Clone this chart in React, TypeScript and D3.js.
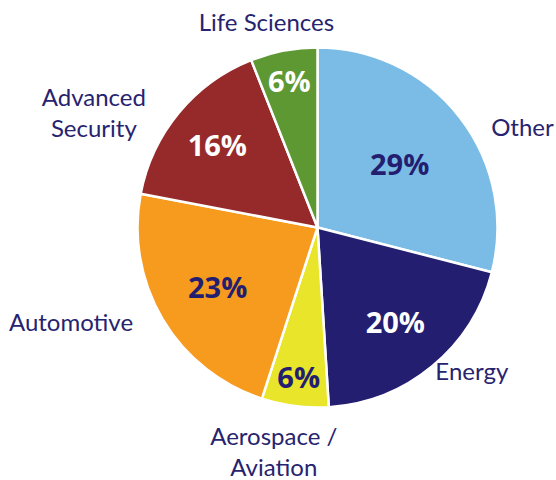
import React, { useEffect, useRef } from "react";
import * as d3 from "d3";

const categories = ["Other", "Energy", "Aerospace / Aviation", "Automotive", "Advanced Security", "Life Sciences"];
const shares = [29, 20, 6, 23, 16, 6];
const sliceColors = ["#7bbce7", "#231e6f", "#e9e52b", "#f79b1e", "#962a2b", "#5d9833"];
const valueTextColors = ["#231e6f", "#ffffff", "#231e6f", "#231e6f", "#ffffff", "#ffffff"];
const labelLines = [["Other"], ["Energy"], ["Aerospace /", "Aviation"], ["Automotive"], ["Advanced", "Security"], ["Life Sciences"]];

// where each category name sits around the pie (angle in degrees, distance from centre)
const labelPlacement = [
  { angle: 64, r: 228 },
  { angle: 133, r: 211 },
  { angle: 191, r: 229 },
  { angle: 249, r: 264 },
  { angle: 297, r: 251 },
  { angle: 346, r: 211 },
];

export default function App() {
  const ref = useRef<SVGSVGElement>(null);

  useEffect(() => {
    document.body.style.margin = "0";
    const width = 556;
    const height = 480;
    const radius = 180;
    const cx = 317.5;
    const cy = 227.5;

    const data = categories.map((name, i) => ({ name, value: shares[i], i }));

    const svg = d3.select(ref.current);
    svg.selectAll("*").remove();
    svg.attr("width", width).attr("height", height);

    const g = svg.append("g").attr("transform", `translate(${cx},${cy})`);

    const pie = d3
      .pie<any>()
      .sort(null)
      .value((d) => d.value);

    const arc = d3.arc<any>().innerRadius(0).outerRadius(radius);

    const arcs = pie(data);

    g.selectAll("path")
      .data(arcs)
      .enter()
      .append("path")
      .attr("d", arc)
      .attr("fill", (d) => sliceColors[d.data.i])
      .attr("stroke", "#fff")
      .attr("stroke-width", 2.5)
      .attr("stroke-linejoin", "round");

    // percentage labels: smaller slices get pushed further out
    g.selectAll(".pct")
      .data(arcs)
      .enter()
      .append("text")
      .attr("class", "pct")
      .attr("transform", (d) => {
        const mid = (d.startAngle + d.endAngle) / 2;
        const r = 162 - 2 * d.data.value;
        const [x, y] = d3.pointRadial(mid, r);
        return `translate(${x},${y})`;
      })
      .attr("text-anchor", "middle")
      .attr("dy", "0.4em")
      .attr("fill", (d) => valueTextColors[d.data.i])
      .style("font-family", "'Open Sans', sans-serif")
      .style("font-weight", "bold")
      .style("font-size", "29px")
      .text((d) => `${d.data.value}%`);

    const lineH = 31;
    const labels = g
      .selectAll(".lbl")
      .data(data)
      .enter()
      .append("text")
      .attr("class", "lbl")
      .attr("text-anchor", "middle")
      .attr("fill", "#27236f")
      .style("font-family", "Lato, sans-serif")
      .style("font-size", "24px")
      .attr("transform", (d) => {
        const p = labelPlacement[d.i];
        const [x, y] = d3.pointRadial((p.angle * Math.PI) / 180, p.r);
        return `translate(${x},${y})`;
      });

    labels
      .selectAll("tspan")
      .data((d) => labelLines[d.i].map((t, k, arr) => ({ t, k, n: arr.length })))
      .enter()
      .append("tspan")
      .attr("x", 0)
      .attr("y", (d) => (d.k - (d.n - 1) / 2) * lineH)
      .attr("dy", "0.35em")
      .text((d) => d.t);
  }, []);

  return <svg ref={ref}></svg>;
}
